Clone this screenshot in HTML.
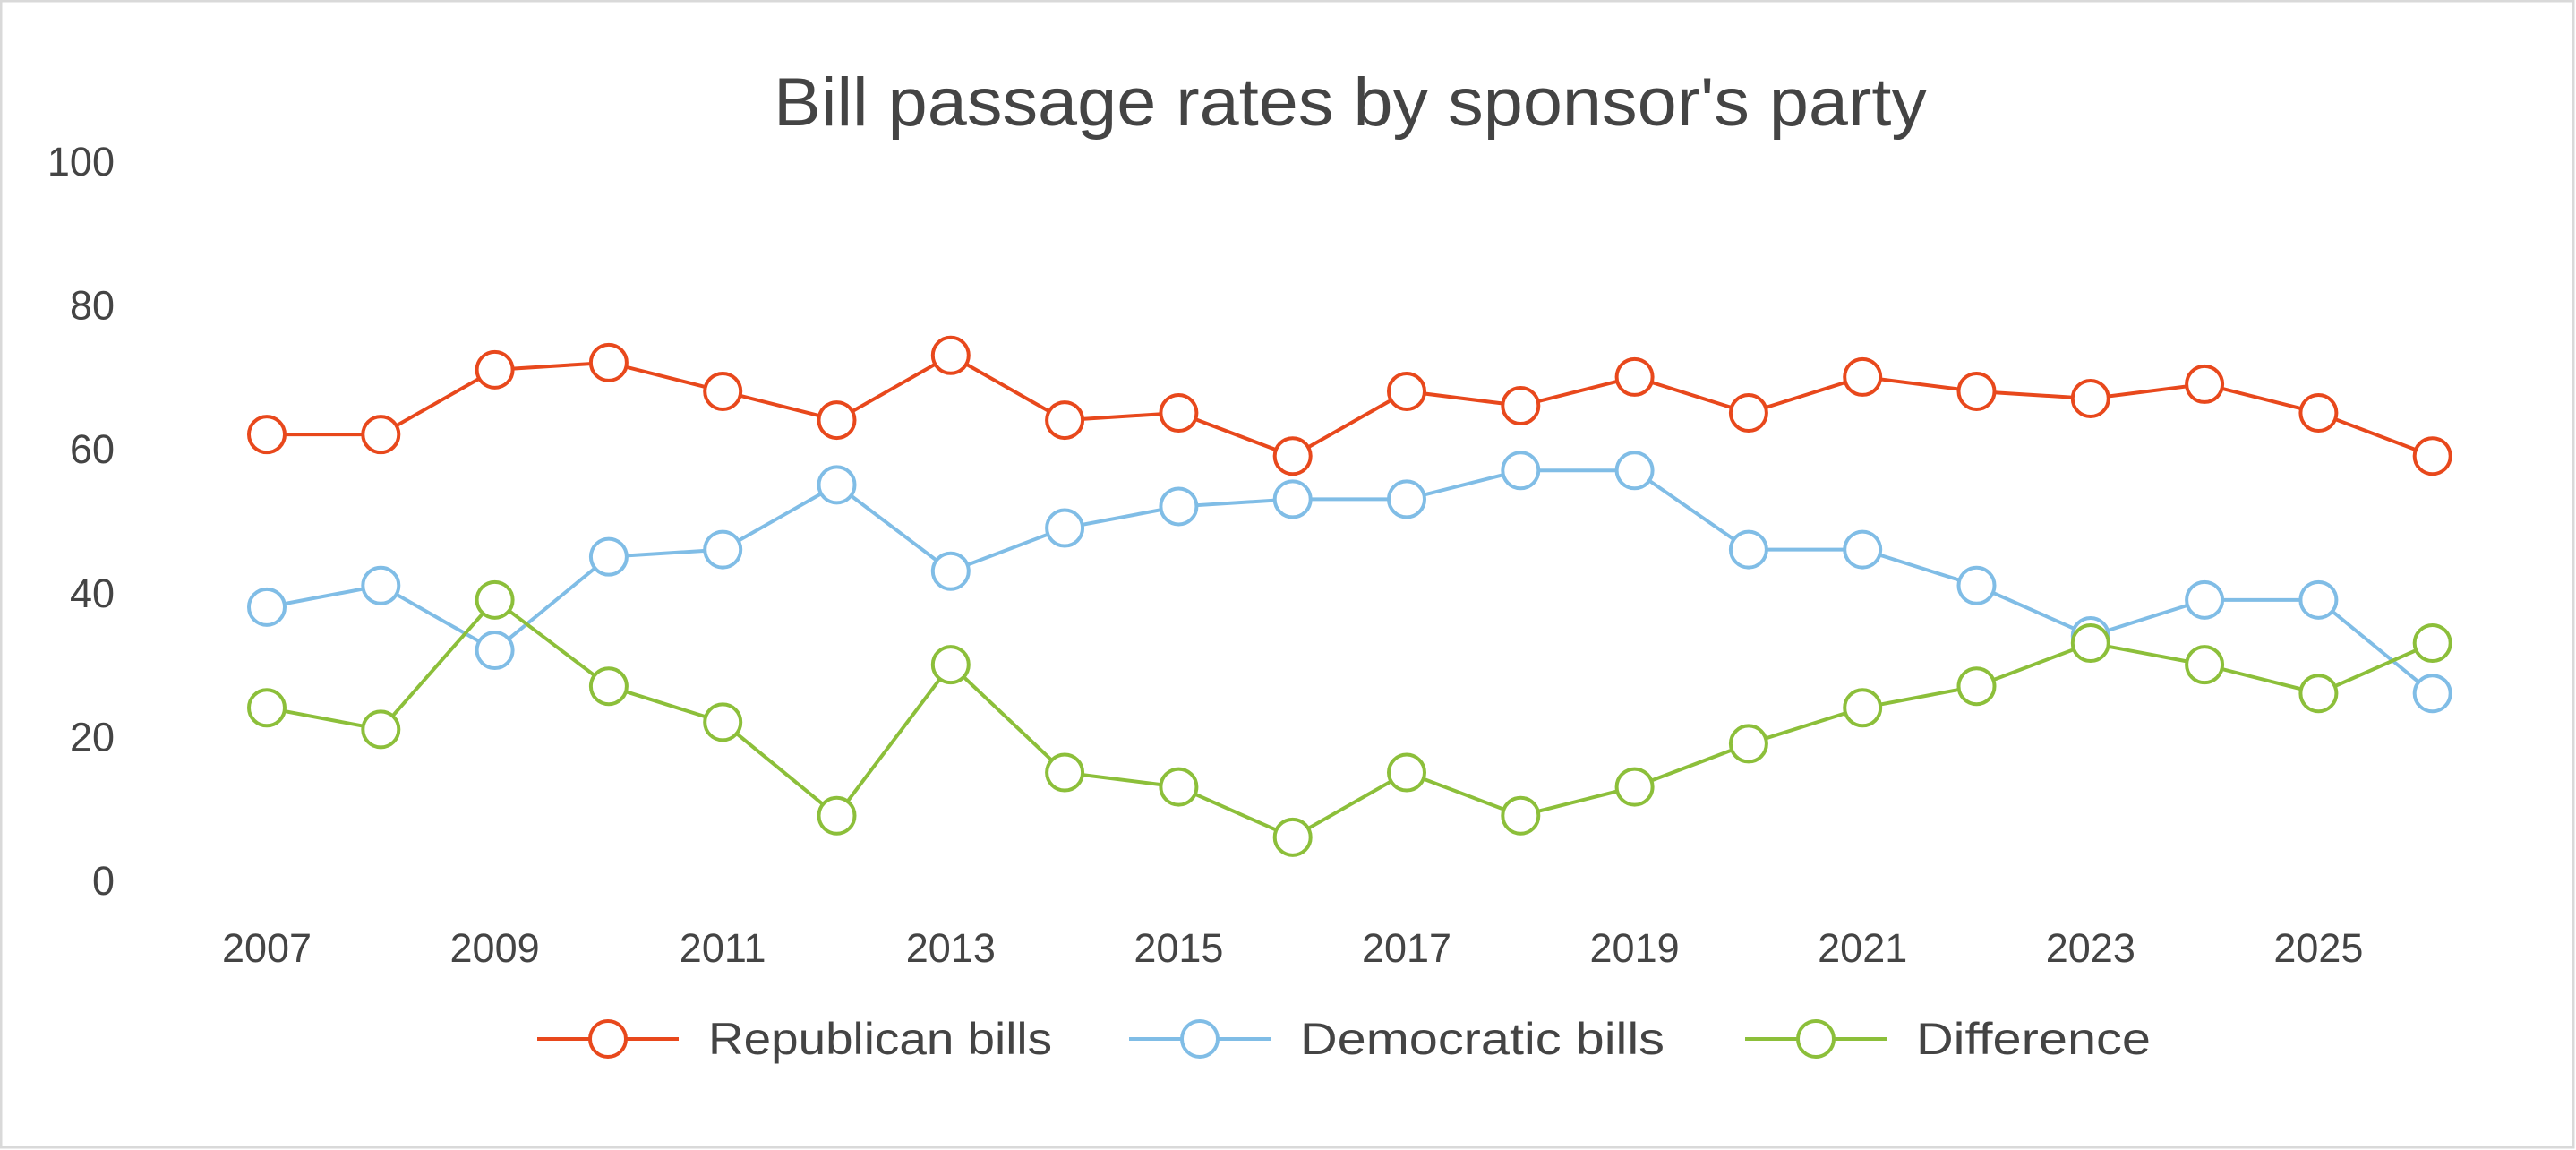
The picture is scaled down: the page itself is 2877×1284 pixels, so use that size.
<!DOCTYPE html>
<html><head><meta charset="utf-8"><style>
html,body{margin:0;padding:0;background:#fff;}
svg{display:block;font-family:"Liberation Sans",sans-serif;}
</style></head><body>
<svg id="chart" width="2877" height="1284" viewBox="0 0 2877 1284" xmlns="http://www.w3.org/2000/svg">
<rect x="1" y="1" width="2873" height="1280" fill="#fff" stroke="#d9d9d9" stroke-width="3"/>
<text x="1508" y="140" text-anchor="middle" font-size="76" fill="#444" textLength="1288" lengthAdjust="spacingAndGlyphs">Bill passage rates by sponsor's party</text>
<g id="yaxis"></g>
<g id="xaxis"></g>
<g id="series"></g>
<g id="legend"></g>
</svg>
<script>
const years = [2007,2008,2009,2010,2011,2012,2013,2014,2015,2016,2017,2018,2019,2020,2021,2022,2023,2024,2025,2026];
const xTickLabels = ["2007","2009","2011","2013","2015","2017","2019","2021","2023","2025"];
const yTickValues = [0,20,40,60,80,100];
const republican = [62,62,71,72,68,64,73,64,65,59,68,66,70,65,70,68,67,69,65,59];
const democratic = [38,41,32,45,46,55,43,49,52,53,53,57,57,46,46,41,34,39,39,26];
const difference = [24,21,39,27,22,9,30,15,13,6,15,9,13,19,24,27,33,30,26,33];
const seriesNames = ["Republican bills","Democratic bills","Difference"];

const NS = "http://www.w3.org/2000/svg";
const colors = ["#e8481c","#80bde6","#8cbf3a"];
function xScale(yr){ return 298 + (yr - 2007) * 127.3; }
function yScale(v){ return 983 - v * 8.03; }
function mk(tag, attrs, parent){ const e = document.createElementNS(NS, tag); for (const k in attrs) e.setAttribute(k, attrs[k]); parent.appendChild(e); return e; }

const yaxis = document.getElementById('yaxis');
yTickValues.forEach(v => {
  const t = mk('text', {x:128, y:yScale(v)+16, 'text-anchor':'end', 'font-size':45, fill:'#444'}, yaxis);
  
  
  t.textContent = v;
});
const xaxis = document.getElementById('xaxis');
xTickLabels.forEach(l => {
  const t = mk('text', {x:xScale(+l), y:1074, 'text-anchor':'middle', 'font-size':45, fill:'#444'}, xaxis);
  
  
  t.textContent = l;
});

const sg = document.getElementById('series');
[republican, democratic, difference].forEach((vals, si) => {
  const g = mk('g', {}, sg);
  
  
  const pts = vals.map((v,i) => xScale(years[i]) + ',' + yScale(v)).join(' ');
  const pl = mk('polyline', {points:pts, fill:'none', stroke:colors[si], 'stroke-width':4}, g);
  
  
  vals.forEach((v,i) => {
    const c = mk('circle', {cx:xScale(years[i]), cy:yScale(v), r:20, fill:'#fff', stroke:colors[si], 'stroke-width':4}, g);
    
    
  });
});

const lg = document.getElementById('legend');
const legX = [600, 1261, 1949];
const legText = [384, 407, 262];
seriesNames.forEach((n, i) => {
  const g = mk('g', {}, lg);
  
  
  mk('line', {x1:legX[i], y1:1160, x2:legX[i]+158, y2:1160, stroke:colors[i], 'stroke-width':4}, g);
  mk('circle', {cx:legX[i]+79, cy:1160, r:20, fill:'#fff', stroke:colors[i], 'stroke-width':4}, g);
  const t = mk('text', {x:legX[i]+191, y:1177, 'font-size':50, fill:'#444', textLength:legText[i], lengthAdjust:'spacingAndGlyphs'}, g);
  
  
  t.textContent = n;
});
</script>
</body></html>
